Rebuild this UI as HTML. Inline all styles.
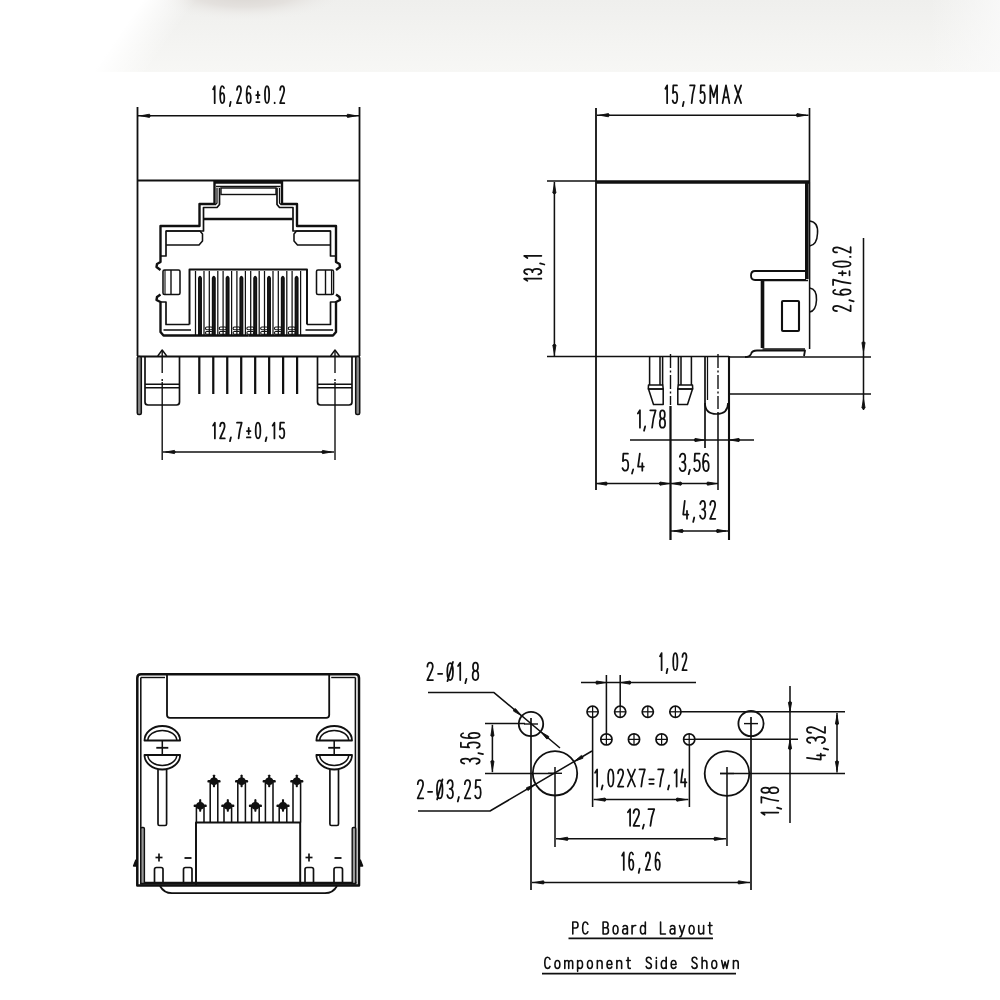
<!DOCTYPE html>
<html><head><meta charset="utf-8"><style>
html,body{margin:0;padding:0;background:#fff;}
body{width:1000px;height:1000px;overflow:hidden;position:relative;}
.bg{position:absolute;left:0;top:0;width:1000px;height:1000px;}
svg{position:absolute;left:0;top:0;}
text{font-family:"Liberation Sans",sans-serif;fill:#101010;}
</style></head><body>
<svg class="bg" width="1000" height="1000" viewBox="0 0 1000 1000">
<defs>
<linearGradient id="gv" x1="0" y1="0" x2="0" y2="72" gradientUnits="userSpaceOnUse">
<stop offset="0" stop-color="#efefed"/><stop offset="1" stop-color="#f7f7f5"/></linearGradient>
<linearGradient id="gl" x1="105" y1="55" x2="141" y2="80" gradientUnits="userSpaceOnUse">
<stop offset="0" stop-color="#ffffff" stop-opacity="1"/><stop offset="1" stop-color="#ffffff" stop-opacity="0"/></linearGradient>
<linearGradient id="gr" x1="930" y1="0" x2="1000" y2="0" gradientUnits="userSpaceOnUse">
<stop offset="0" stop-color="#fafafa" stop-opacity="0"/><stop offset="1" stop-color="#fafafa" stop-opacity="0.8"/></linearGradient>
<radialGradient id="g1" cx="0.5" cy="0.5" r="0.5">
<stop offset="0" stop-color="#d8d4d0"/><stop offset="0.5" stop-color="#e4e1de"/><stop offset="1" stop-color="#f1f1ef" stop-opacity="0"/></radialGradient>
</defs>
<rect x="0" y="0" width="1000" height="72" fill="url(#gv)"/>
<ellipse cx="245" cy="-7" rx="105" ry="28" fill="url(#g1)"/>
<rect x="0" y="0" width="1000" height="72" fill="url(#gr)"/>
<rect x="0" y="0" width="1000" height="72" fill="url(#gl)"/>
</svg>
<svg width="1000" height="1000" viewBox="0 0 1000 1000" style="filter:grayscale(1)">
<defs><filter id="soft" x="0" y="0" width="1000" height="1000" filterUnits="userSpaceOnUse"><feGaussianBlur stdDeviation="0.8"/></filter></defs>
<g>
<line x1="137.5" y1="107" x2="137.5" y2="356" stroke="#101010" stroke-width="1.82" />
<line x1="359.5" y1="107" x2="359.5" y2="356" stroke="#101010" stroke-width="1.82" />
<line x1="138" y1="115.8" x2="359" y2="115.8" stroke="#101010" stroke-width="1.54" />
<polygon points="140.60,115.80 149.50,114.20 150.30,115.80 149.50,117.40" fill="#101010" stroke="#101010" stroke-width="0.9" stroke-linejoin="round"/>
<polygon points="356.40,115.80 347.50,117.40 346.70,115.80 347.50,114.20" fill="#101010" stroke="#101010" stroke-width="0.9" stroke-linejoin="round"/>
<line x1="137.5" y1="180.5" x2="359.5" y2="180.5" stroke="#101010" stroke-width="1.82" />
<polyline points="214.5,181 214.5,204 199.5,204 199.5,226 160.5,226 160.5,262 157,264 156.5,267 160.5,270 160.5,270" fill="none" stroke="#101010" stroke-width="2.38" stroke-linejoin="round" />
<polyline points="282.0,181 282.0,204 297.0,204 297.0,226 336.0,226 336.0,262 339.5,264 340.0,267 336.0,270 336.0,270" fill="none" stroke="#101010" stroke-width="2.38" stroke-linejoin="round" />
<polyline points="160.5,294.5 157,297 156.5,300 160.5,302 160.5,332 163.5,335.5 248.25,335.5" fill="none" stroke="#101010" stroke-width="2.38" stroke-linejoin="round" />
<polyline points="336.0,294.5 339.5,297 340.0,300 336.0,302 336.0,332 333.0,335.5 248.25,335.5" fill="none" stroke="#101010" stroke-width="2.38" stroke-linejoin="round" />
<line x1="214.5" y1="182.3" x2="282" y2="182.3" stroke="#101010" stroke-width="3.08" />
<line x1="216" y1="186.5" x2="280.5" y2="186.5" stroke="#101010" stroke-width="1.4" />
<rect x="221" y="188" width="55" height="6.5" rx="0" fill="none" stroke="#101010" stroke-width="1.4"/>
<polyline points="219.5,188 219.5,204.5 217,207.5 203.5,207.5 203.5,231 166,231 166,256 160.5,256" fill="none" stroke="#101010" stroke-width="1.68" stroke-linejoin="round" />
<polyline points="277.0,188 277.0,204.5 279.5,207.5 293.0,207.5 293.0,231 330.5,231 330.5,256 336.0,256" fill="none" stroke="#101010" stroke-width="1.68" stroke-linejoin="round" />
<polyline points="217,188 217,203 215,205" fill="none" stroke="#101010" stroke-width="1.26" stroke-linejoin="round" />
<polyline points="279.5,188 279.5,203 281.5,205" fill="none" stroke="#101010" stroke-width="1.26" stroke-linejoin="round" />
<line x1="204" y1="219" x2="292.5" y2="219" stroke="#101010" stroke-width="2.52" />
<polyline points="166,231 200,231 202.5,234 202.5,241 199,245 166,245" fill="none" stroke="#101010" stroke-width="1.54" stroke-linejoin="round" />
<polyline points="330.5,231 296.5,231 294.0,234 294.0,241 297.5,245 330.5,245" fill="none" stroke="#101010" stroke-width="1.54" stroke-linejoin="round" />
<rect x="163" y="270" width="17" height="24.5" rx="1.5" fill="none" stroke="#101010" stroke-width="1.54"/>
<rect x="316.5" y="270" width="17" height="24.5" rx="1.5" fill="none" stroke="#101010" stroke-width="1.54"/>
<line x1="171" y1="270" x2="171" y2="294.5" stroke="#101010" stroke-width="1.4" />
<line x1="325.5" y1="270" x2="325.5" y2="294.5" stroke="#101010" stroke-width="1.4" />
<line x1="165" y1="270" x2="165" y2="294.5" stroke="#101010" stroke-width="1.12" />
<line x1="331.5" y1="270" x2="331.5" y2="294.5" stroke="#101010" stroke-width="1.12" />
<polyline points="160.5,302 166,302 166,324.5 189.5,324.5" fill="none" stroke="#101010" stroke-width="1.68" stroke-linejoin="round" />
<polyline points="336.0,302 330.5,302 330.5,324.5 307.0,324.5" fill="none" stroke="#101010" stroke-width="1.68" stroke-linejoin="round" />
<line x1="163.5" y1="330" x2="191" y2="330" stroke="#101010" stroke-width="1.54" />
<line x1="333.0" y1="330" x2="305.5" y2="330" stroke="#101010" stroke-width="1.54" />
<polyline points="189.5,324.5 189.5,269.5 307,269.5 307,324.5" fill="none" stroke="#101010" stroke-width="1.96" stroke-linejoin="round" />
<line x1="195.5" y1="271" x2="195.5" y2="335.5" stroke="#101010" stroke-width="1.26" />
<line x1="204.0" y1="271" x2="204.0" y2="335.5" stroke="#101010" stroke-width="1.26" />
<path d="M199.0,335.5 L199.0,278 Q200.0,275.5 201.0,278 L201.0,335.5" fill="none" stroke="#101010" stroke-width="1.96" stroke-linejoin="round" />
<rect x="205.5" y="327" width="7" height="2.8" rx="1.2" fill="none" stroke="#101010" stroke-width="1.12"/>
<rect x="205.5" y="331.5" width="7" height="2.8" rx="1.2" fill="none" stroke="#101010" stroke-width="1.12"/>
<line x1="209.3" y1="271" x2="209.3" y2="335.5" stroke="#101010" stroke-width="1.26" />
<line x1="217.8" y1="271" x2="217.8" y2="335.5" stroke="#101010" stroke-width="1.26" />
<path d="M212.8,335.5 L212.8,278 Q213.8,275.5 214.8,278 L214.8,335.5" fill="none" stroke="#101010" stroke-width="1.96" stroke-linejoin="round" />
<rect x="219.3" y="327" width="7" height="2.8" rx="1.2" fill="none" stroke="#101010" stroke-width="1.12"/>
<rect x="219.3" y="331.5" width="7" height="2.8" rx="1.2" fill="none" stroke="#101010" stroke-width="1.12"/>
<line x1="223.1" y1="271" x2="223.1" y2="335.5" stroke="#101010" stroke-width="1.26" />
<line x1="231.6" y1="271" x2="231.6" y2="335.5" stroke="#101010" stroke-width="1.26" />
<path d="M226.6,335.5 L226.6,278 Q227.6,275.5 228.6,278 L228.6,335.5" fill="none" stroke="#101010" stroke-width="1.96" stroke-linejoin="round" />
<rect x="233.1" y="327" width="7" height="2.8" rx="1.2" fill="none" stroke="#101010" stroke-width="1.12"/>
<rect x="233.1" y="331.5" width="7" height="2.8" rx="1.2" fill="none" stroke="#101010" stroke-width="1.12"/>
<line x1="236.9" y1="271" x2="236.9" y2="335.5" stroke="#101010" stroke-width="1.26" />
<line x1="245.4" y1="271" x2="245.4" y2="335.5" stroke="#101010" stroke-width="1.26" />
<path d="M240.4,335.5 L240.4,278 Q241.4,275.5 242.4,278 L242.4,335.5" fill="none" stroke="#101010" stroke-width="1.96" stroke-linejoin="round" />
<rect x="246.9" y="327" width="7" height="2.8" rx="1.2" fill="none" stroke="#101010" stroke-width="1.12"/>
<rect x="246.9" y="331.5" width="7" height="2.8" rx="1.2" fill="none" stroke="#101010" stroke-width="1.12"/>
<line x1="250.7" y1="271" x2="250.7" y2="335.5" stroke="#101010" stroke-width="1.26" />
<line x1="259.2" y1="271" x2="259.2" y2="335.5" stroke="#101010" stroke-width="1.26" />
<path d="M254.2,335.5 L254.2,278 Q255.2,275.5 256.2,278 L256.2,335.5" fill="none" stroke="#101010" stroke-width="1.96" stroke-linejoin="round" />
<rect x="260.7" y="327" width="7" height="2.8" rx="1.2" fill="none" stroke="#101010" stroke-width="1.12"/>
<rect x="260.7" y="331.5" width="7" height="2.8" rx="1.2" fill="none" stroke="#101010" stroke-width="1.12"/>
<line x1="264.5" y1="271" x2="264.5" y2="335.5" stroke="#101010" stroke-width="1.26" />
<line x1="273.0" y1="271" x2="273.0" y2="335.5" stroke="#101010" stroke-width="1.26" />
<path d="M268.0,335.5 L268.0,278 Q269.0,275.5 270.0,278 L270.0,335.5" fill="none" stroke="#101010" stroke-width="1.96" stroke-linejoin="round" />
<rect x="274.5" y="327" width="7" height="2.8" rx="1.2" fill="none" stroke="#101010" stroke-width="1.12"/>
<rect x="274.5" y="331.5" width="7" height="2.8" rx="1.2" fill="none" stroke="#101010" stroke-width="1.12"/>
<line x1="278.3" y1="271" x2="278.3" y2="335.5" stroke="#101010" stroke-width="1.26" />
<line x1="286.8" y1="271" x2="286.8" y2="335.5" stroke="#101010" stroke-width="1.26" />
<path d="M281.8,335.5 L281.8,278 Q282.8,275.5 283.8,278 L283.8,335.5" fill="none" stroke="#101010" stroke-width="1.96" stroke-linejoin="round" />
<rect x="288.3" y="327" width="7" height="2.8" rx="1.2" fill="none" stroke="#101010" stroke-width="1.12"/>
<rect x="288.3" y="331.5" width="7" height="2.8" rx="1.2" fill="none" stroke="#101010" stroke-width="1.12"/>
<line x1="292.1" y1="271" x2="292.1" y2="335.5" stroke="#101010" stroke-width="1.26" />
<line x1="300.6" y1="271" x2="300.6" y2="335.5" stroke="#101010" stroke-width="1.26" />
<path d="M295.6,335.5 L295.6,278 Q296.6,275.5 297.6,278 L297.6,335.5" fill="none" stroke="#101010" stroke-width="1.96" stroke-linejoin="round" />
<line x1="137.5" y1="356.5" x2="359.5" y2="356.5" stroke="#101010" stroke-width="1.82" />
<rect x="137.3" y="356.5" width="4" height="58" rx="1.5" fill="#8a8a8a" stroke="#101010" stroke-width="1.54"/>
<rect x="355.7" y="356.5" width="4" height="58" rx="1.5" fill="#8a8a8a" stroke="#101010" stroke-width="1.54"/>
<path d="M145,357 L145,402 Q145,405 148,405 L176.5,405 Q179.5,405 179.5,402 L179.5,357" fill="none" stroke="#101010" stroke-width="1.68" stroke-linejoin="round" />
<line x1="145" y1="384.3" x2="179.5" y2="384.3" stroke="#101010" stroke-width="1.54" />
<line x1="145" y1="387.7" x2="179.5" y2="387.7" stroke="#101010" stroke-width="1.54" />
<path d="M317.5,357 L317.5,402 Q317.5,405 320.5,405 L349.0,405 Q352.0,405 352.0,402 L352.0,357" fill="none" stroke="#101010" stroke-width="1.68" stroke-linejoin="round" />
<line x1="317.5" y1="384.3" x2="352.0" y2="384.3" stroke="#101010" stroke-width="1.54" />
<line x1="317.5" y1="387.7" x2="352.0" y2="387.7" stroke="#101010" stroke-width="1.54" />
<line x1="162.2" y1="350" x2="162.2" y2="373" stroke="#101010" stroke-width="1.4" />
<line x1="162.2" y1="379" x2="162.2" y2="381" stroke="#101010" stroke-width="1.4" />
<line x1="162.2" y1="382" x2="162.2" y2="460" stroke="#101010" stroke-width="1.4" />
<polyline points="157.7,356 162.2,350 166.7,356" fill="none" stroke="#101010" stroke-width="1.4" stroke-linejoin="round" />
<line x1="335" y1="350" x2="335" y2="373" stroke="#101010" stroke-width="1.4" />
<line x1="335" y1="379" x2="335" y2="381" stroke="#101010" stroke-width="1.4" />
<line x1="335" y1="382" x2="335" y2="460" stroke="#101010" stroke-width="1.4" />
<polyline points="330.5,356 335,350 339.5,356" fill="none" stroke="#101010" stroke-width="1.4" stroke-linejoin="round" />
<line x1="199.3" y1="357" x2="199.3" y2="394" stroke="#101010" stroke-width="2.24" />
<line x1="213.27" y1="357" x2="213.27" y2="394" stroke="#101010" stroke-width="2.24" />
<line x1="227.24" y1="357" x2="227.24" y2="394" stroke="#101010" stroke-width="2.24" />
<line x1="241.21" y1="357" x2="241.21" y2="394" stroke="#101010" stroke-width="2.24" />
<line x1="255.18" y1="357" x2="255.18" y2="394" stroke="#101010" stroke-width="2.24" />
<line x1="269.15000000000003" y1="357" x2="269.15000000000003" y2="394" stroke="#101010" stroke-width="2.24" />
<line x1="283.12" y1="357" x2="283.12" y2="394" stroke="#101010" stroke-width="2.24" />
<line x1="297.09000000000003" y1="357" x2="297.09000000000003" y2="394" stroke="#101010" stroke-width="2.24" />
<line x1="163" y1="452" x2="334" y2="452" stroke="#101010" stroke-width="1.54" />
<polygon points="165.60,452.00 174.50,450.40 175.30,452.00 174.50,453.60" fill="#101010" stroke="#101010" stroke-width="0.9" stroke-linejoin="round"/>
<polygon points="331.40,452.00 322.50,453.60 321.70,452.00 322.50,450.40" fill="#101010" stroke="#101010" stroke-width="0.9" stroke-linejoin="round"/>
<line x1="596" y1="108" x2="596" y2="490" stroke="#101010" stroke-width="1.82" />
<line x1="809.5" y1="108" x2="809.5" y2="182" stroke="#101010" stroke-width="1.68" />
<line x1="597" y1="115.2" x2="808.5" y2="115.2" stroke="#101010" stroke-width="1.54" />
<polygon points="599.60,115.20 608.50,113.60 609.30,115.20 608.50,116.80" fill="#101010" stroke="#101010" stroke-width="0.9" stroke-linejoin="round"/>
<polygon points="805.90,115.20 797.00,116.80 796.20,115.20 797.00,113.60" fill="#101010" stroke="#101010" stroke-width="0.9" stroke-linejoin="round"/>
<line x1="547" y1="181" x2="596" y2="181" stroke="#101010" stroke-width="1.4" />
<line x1="596" y1="182" x2="809" y2="182" stroke="#101010" stroke-width="3.64" />
<line x1="806.8" y1="182" x2="806.8" y2="279" stroke="#101010" stroke-width="3.64" />
<line x1="809.6" y1="182" x2="809.6" y2="349" stroke="#101010" stroke-width="1.54" />
<path d="M809.6,221 Q818.5,222 817.5,233.5 Q817,245 809.6,246" fill="none" stroke="#101010" stroke-width="1.54" stroke-linejoin="round" />
<path d="M809.6,288 Q817,289 816.5,300 Q816,311 809.6,312" fill="none" stroke="#101010" stroke-width="1.54" stroke-linejoin="round" />
<path d="M806,271 L755,271 Q751,271 751,275.5 Q751,280 755,280 L806,280" fill="none" stroke="#101010" stroke-width="1.82" stroke-linejoin="round" />
<line x1="762.5" y1="280" x2="762.5" y2="348" stroke="#101010" stroke-width="3.64" />
<line x1="762.5" y1="280.5" x2="808" y2="280.5" stroke="#101010" stroke-width="1.68" />
<rect x="782" y="301" width="17" height="30" rx="1" fill="none" stroke="#101010" stroke-width="2.1"/>
<path d="M745,357 Q750,357 751,354 Q752,350.5 757,350.5 L805,350.5 L804,356" fill="none" stroke="#101010" stroke-width="1.82" stroke-linejoin="round" />
<line x1="762.5" y1="349" x2="805" y2="349" stroke="#101010" stroke-width="1.4" />
<line x1="554.4" y1="182" x2="554.4" y2="356" stroke="#101010" stroke-width="1.54" />
<polygon points="554.40,184.10 556.00,193.00 554.40,193.80 552.80,193.00" fill="#101010" stroke="#101010" stroke-width="0.9" stroke-linejoin="round"/>
<polygon points="554.40,353.90 552.80,345.00 554.40,344.20 556.00,345.00" fill="#101010" stroke="#101010" stroke-width="0.9" stroke-linejoin="round"/>
<line x1="547" y1="356.5" x2="729" y2="356.5" stroke="#101010" stroke-width="1.68" />
<line x1="729" y1="357" x2="871" y2="357" stroke="#101010" stroke-width="1.68" />
<line x1="729" y1="394" x2="871" y2="394" stroke="#101010" stroke-width="1.68" />
<line x1="729" y1="356" x2="729" y2="540" stroke="#101010" stroke-width="2.1" />
<line x1="863.5" y1="238" x2="863.5" y2="410" stroke="#101010" stroke-width="1.54" />
<polygon points="863.50,351.40 861.90,342.50 863.50,341.70 865.10,342.50" fill="#101010" stroke="#101010" stroke-width="0.9" stroke-linejoin="round"/>
<polygon points="863.50,399.10 865.10,408.00 863.50,408.80 861.90,408.00" fill="#101010" stroke="#101010" stroke-width="0.9" stroke-linejoin="round"/>
<line x1="649.6" y1="357" x2="649.6" y2="385" stroke="#101010" stroke-width="1.54" />
<line x1="660" y1="357" x2="660" y2="385" stroke="#101010" stroke-width="1.54" />
<line x1="662.6" y1="357" x2="662.6" y2="385" stroke="#101010" stroke-width="1.54" />
<polygon points="648.5,385 662.8,385 663.2,389 648.3,389" fill="none" stroke="#101010" stroke-width="1.54" stroke-linejoin="round" />
<polygon points="648.5,389 653.5,404.5 663.2,404.5 663.2,389" fill="none" stroke="#101010" stroke-width="1.54" stroke-linejoin="round" />
<line x1="691.4" y1="357" x2="691.4" y2="385" stroke="#101010" stroke-width="1.54" />
<line x1="681.0" y1="357" x2="681.0" y2="385" stroke="#101010" stroke-width="1.54" />
<line x1="678.4" y1="357" x2="678.4" y2="385" stroke="#101010" stroke-width="1.54" />
<polygon points="692.5,385 678.2,385 677.8,389 692.7,389" fill="none" stroke="#101010" stroke-width="1.54" stroke-linejoin="round" />
<polygon points="692.5,389 687.5,404.5 677.8,404.5 677.8,389" fill="none" stroke="#101010" stroke-width="1.54" stroke-linejoin="round" />
<line x1="670.5" y1="354" x2="670.5" y2="368" stroke="#101010" stroke-width="1.4" />
<line x1="670.5" y1="370.5" x2="670.5" y2="372.5" stroke="#101010" stroke-width="1.4" />
<line x1="670.5" y1="375" x2="670.5" y2="389" stroke="#101010" stroke-width="1.4" />
<line x1="670.5" y1="391.5" x2="670.5" y2="393.5" stroke="#101010" stroke-width="1.4" />
<line x1="670.5" y1="396" x2="670.5" y2="405" stroke="#101010" stroke-width="1.4" />
<line x1="670.5" y1="406" x2="670.5" y2="540" stroke="#101010" stroke-width="2.24" />
<path d="M705,357 L705,403 Q705,414 716.5,414 Q728,414 728,403" fill="none" stroke="#101010" stroke-width="1.68" stroke-linejoin="round" />
<line x1="707.5" y1="357" x2="707.5" y2="400" stroke="#101010" stroke-width="1.26" />
<line x1="705" y1="403" x2="705" y2="448" stroke="#101010" stroke-width="1.68" />
<line x1="718" y1="354" x2="718" y2="368" stroke="#101010" stroke-width="1.4" />
<line x1="718" y1="370.5" x2="718" y2="372.5" stroke="#101010" stroke-width="1.4" />
<line x1="718" y1="375" x2="718" y2="389" stroke="#101010" stroke-width="1.4" />
<line x1="718" y1="391.5" x2="718" y2="393.5" stroke="#101010" stroke-width="1.4" />
<line x1="718" y1="396" x2="718" y2="409" stroke="#101010" stroke-width="1.4" />
<line x1="718" y1="412" x2="718" y2="490" stroke="#101010" stroke-width="1.54" />
<line x1="630" y1="440" x2="754" y2="440" stroke="#101010" stroke-width="1.54" />
<polygon points="703.90,440.00 695.00,441.60 694.20,440.00 695.00,438.40" fill="#101010" stroke="#101010" stroke-width="0.9" stroke-linejoin="round"/>
<polygon points="730.10,440.00 739.00,438.40 739.80,440.00 739.00,441.60" fill="#101010" stroke="#101010" stroke-width="0.9" stroke-linejoin="round"/>
<line x1="596" y1="483.6" x2="718" y2="483.6" stroke="#101010" stroke-width="1.54" />
<polygon points="597.60,483.60 606.50,482.00 607.30,483.60 606.50,485.20" fill="#101010" stroke="#101010" stroke-width="0.9" stroke-linejoin="round"/>
<polygon points="668.90,483.60 660.00,485.20 659.20,483.60 660.00,482.00" fill="#101010" stroke="#101010" stroke-width="0.9" stroke-linejoin="round"/>
<polygon points="672.10,483.60 681.00,482.00 681.80,483.60 681.00,485.20" fill="#101010" stroke="#101010" stroke-width="0.9" stroke-linejoin="round"/>
<polygon points="716.40,483.60 707.50,485.20 706.70,483.60 707.50,482.00" fill="#101010" stroke="#101010" stroke-width="0.9" stroke-linejoin="round"/>
<line x1="671" y1="531" x2="728.5" y2="531" stroke="#101010" stroke-width="1.54" />
<polygon points="673.60,531.00 682.50,529.40 683.30,531.00 682.50,532.60" fill="#101010" stroke="#101010" stroke-width="0.9" stroke-linejoin="round"/>
<polygon points="725.90,531.00 717.00,532.60 716.20,531.00 717.00,529.40" fill="#101010" stroke="#101010" stroke-width="0.9" stroke-linejoin="round"/>
<path d="M137.3,885.5 L137.3,678 Q137.3,674.3 141,674.3 L355.5,674.3 Q359,674.3 359,678 L359,885.5 Z" fill="none" stroke="#101010" stroke-width="2.52" stroke-linejoin="round" />
<line x1="140.8" y1="677.5" x2="140.8" y2="883" stroke="#101010" stroke-width="1.54" />
<line x1="355.4" y1="677.5" x2="355.4" y2="883" stroke="#101010" stroke-width="1.54" />
<line x1="140.8" y1="677.5" x2="165" y2="677.5" stroke="#101010" stroke-width="1.4" />
<line x1="355.4" y1="677.5" x2="331.2" y2="677.5" stroke="#101010" stroke-width="1.4" />
<path d="M167,675 L167,715 Q167,717.8 170,717.8 L326.2,717.8 Q329.2,717.8 329.2,715 L329.2,675" fill="none" stroke="#101010" stroke-width="1.82" stroke-linejoin="round" />
<path d="M144.5,740.5 A17.8 14.5 0 0 1 180.10000000000002,740.5 Z" fill="none" stroke="#101010" stroke-width="1.82" stroke-linejoin="round" />
<path d="M147.8,740.5 A14.5 10 0 0 1 176.8,740.5" fill="none" stroke="#101010" stroke-width="1.54" stroke-linejoin="round" />
<line x1="162.3" y1="741" x2="162.3" y2="754" stroke="#101010" stroke-width="1.54" />
<line x1="156.3" y1="747.8" x2="168.3" y2="747.8" stroke="#101010" stroke-width="1.82" />
<path d="M144.5,755 A17.8 14.5 0 0 0 180.10000000000002,755 Z" fill="none" stroke="#101010" stroke-width="1.82" stroke-linejoin="round" />
<path d="M147.8,755 A14.5 10.5 0 0 0 176.8,755" fill="none" stroke="#101010" stroke-width="1.54" stroke-linejoin="round" />
<path d="M158.0,769.5 L158.0,824 Q158.0,825.5 159.5,825.5 L165.10000000000002,825.5 Q166.60000000000002,825.5 166.60000000000002,824 L166.60000000000002,769.5" fill="none" stroke="#101010" stroke-width="1.68" stroke-linejoin="round" />
<path d="M316.4,740.5 A17.8 14.5 0 0 1 352.0,740.5 Z" fill="none" stroke="#101010" stroke-width="1.82" stroke-linejoin="round" />
<path d="M319.7,740.5 A14.5 10 0 0 1 348.7,740.5" fill="none" stroke="#101010" stroke-width="1.54" stroke-linejoin="round" />
<line x1="334.2" y1="741" x2="334.2" y2="754" stroke="#101010" stroke-width="1.54" />
<line x1="328.2" y1="747.8" x2="340.2" y2="747.8" stroke="#101010" stroke-width="1.82" />
<path d="M316.4,755 A17.8 14.5 0 0 0 352.0,755 Z" fill="none" stroke="#101010" stroke-width="1.82" stroke-linejoin="round" />
<path d="M319.7,755 A14.5 10.5 0 0 0 348.7,755" fill="none" stroke="#101010" stroke-width="1.54" stroke-linejoin="round" />
<path d="M329.9,769.5 L329.9,824 Q329.9,825.5 331.4,825.5 L337.0,825.5 Q338.5,825.5 338.5,824 L338.5,769.5" fill="none" stroke="#101010" stroke-width="1.68" stroke-linejoin="round" />
<path d="M210.2,822.5 L210.2,782 M217.8,782 L217.8,822.5" fill="none" stroke="#101010" stroke-width="1.54" stroke-linejoin="round" />
<path d="M196.39999999999998,822.5 L196.39999999999998,806 M204.0,806 L204.0,822.5" fill="none" stroke="#101010" stroke-width="1.54" stroke-linejoin="round" />
<ellipse cx="214.0" cy="781.3" rx="4.1" ry="3.8" fill="#101010"/>
<rect x="207.4" y="780.0" width="13.2" height="2.6" rx="1.2" fill="#101010"/>
<path d="M212.7,781.3 L213.0,775.3 Q214.0,773.9 215.0,775.3 L215.3,781.3 L215.0,786.8 Q214.0,787.9 213.0,786.8 Z" fill="#101010"/>
<ellipse cx="200.2" cy="805.8" rx="4.1" ry="3.8" fill="#101010"/>
<rect x="193.6" y="804.5" width="13.2" height="2.6" rx="1.2" fill="#101010"/>
<path d="M198.89999999999998,805.8 L199.2,799.8 Q200.2,798.4 201.2,799.8 L201.5,805.8 L201.2,811.3 Q200.2,812.4 199.2,811.3 Z" fill="#101010"/>
<path d="M237.79999999999998,822.5 L237.79999999999998,782 M245.4,782 L245.4,822.5" fill="none" stroke="#101010" stroke-width="1.54" stroke-linejoin="round" />
<path d="M223.99999999999997,822.5 L223.99999999999997,806 M231.6,806 L231.6,822.5" fill="none" stroke="#101010" stroke-width="1.54" stroke-linejoin="round" />
<ellipse cx="241.6" cy="781.3" rx="4.1" ry="3.8" fill="#101010"/>
<rect x="235.0" y="780.0" width="13.2" height="2.6" rx="1.2" fill="#101010"/>
<path d="M240.29999999999998,781.3 L240.6,775.3 Q241.6,773.9 242.6,775.3 L242.9,781.3 L242.6,786.8 Q241.6,787.9 240.6,786.8 Z" fill="#101010"/>
<ellipse cx="227.79999999999998" cy="805.8" rx="4.1" ry="3.8" fill="#101010"/>
<rect x="221.2" y="804.5" width="13.2" height="2.6" rx="1.2" fill="#101010"/>
<path d="M226.49999999999997,805.8 L226.79999999999998,799.8 Q227.79999999999998,798.4 228.79999999999998,799.8 L229.1,805.8 L228.79999999999998,811.3 Q227.79999999999998,812.4 226.79999999999998,811.3 Z" fill="#101010"/>
<path d="M265.4,822.5 L265.4,782 M273.0,782 L273.0,822.5" fill="none" stroke="#101010" stroke-width="1.54" stroke-linejoin="round" />
<path d="M251.59999999999997,822.5 L251.59999999999997,806 M259.2,806 L259.2,822.5" fill="none" stroke="#101010" stroke-width="1.54" stroke-linejoin="round" />
<ellipse cx="269.2" cy="781.3" rx="4.1" ry="3.8" fill="#101010"/>
<rect x="262.59999999999997" y="780.0" width="13.2" height="2.6" rx="1.2" fill="#101010"/>
<path d="M267.9,781.3 L268.2,775.3 Q269.2,773.9 270.2,775.3 L270.5,781.3 L270.2,786.8 Q269.2,787.9 268.2,786.8 Z" fill="#101010"/>
<ellipse cx="255.39999999999998" cy="805.8" rx="4.1" ry="3.8" fill="#101010"/>
<rect x="248.79999999999998" y="804.5" width="13.2" height="2.6" rx="1.2" fill="#101010"/>
<path d="M254.09999999999997,805.8 L254.39999999999998,799.8 Q255.39999999999998,798.4 256.4,799.8 L256.7,805.8 L256.4,811.3 Q255.39999999999998,812.4 254.39999999999998,811.3 Z" fill="#101010"/>
<path d="M293.0,822.5 L293.0,782 M300.6,782 L300.6,822.5" fill="none" stroke="#101010" stroke-width="1.54" stroke-linejoin="round" />
<path d="M279.2,822.5 L279.2,806 M286.8,806 L286.8,822.5" fill="none" stroke="#101010" stroke-width="1.54" stroke-linejoin="round" />
<ellipse cx="296.8" cy="781.3" rx="4.1" ry="3.8" fill="#101010"/>
<rect x="290.2" y="780.0" width="13.2" height="2.6" rx="1.2" fill="#101010"/>
<path d="M295.5,781.3 L295.8,775.3 Q296.8,773.9 297.8,775.3 L298.1,781.3 L297.8,786.8 Q296.8,787.9 295.8,786.8 Z" fill="#101010"/>
<ellipse cx="283.0" cy="805.8" rx="4.1" ry="3.8" fill="#101010"/>
<rect x="276.4" y="804.5" width="13.2" height="2.6" rx="1.2" fill="#101010"/>
<path d="M281.7,805.8 L282.0,799.8 Q283.0,798.4 284.0,799.8 L284.3,805.8 L284.0,811.3 Q283.0,812.4 282.0,811.3 Z" fill="#101010"/>
<polyline points="196,885 196,822.4 300.2,822.4 300.2,885" fill="none" stroke="#101010" stroke-width="1.96" stroke-linejoin="round" />
<path d="M154.5,883 L154.5,869.5 Q154.5,867.5 156.5,867.5 L161.0,867.5 Q163.0,867.5 163.0,869.5 L163.0,883" fill="none" stroke="#101010" stroke-width="1.68" stroke-linejoin="round" />
<path d="M183.5,883 L183.5,869.5 Q183.5,867.5 185.5,867.5 L190.0,867.5 Q192.0,867.5 192.0,869.5 L192.0,883" fill="none" stroke="#101010" stroke-width="1.68" stroke-linejoin="round" />
<path d="M305,883 L305,869.5 Q305,867.5 307,867.5 L311.5,867.5 Q313.5,867.5 313.5,869.5 L313.5,883" fill="none" stroke="#101010" stroke-width="1.68" stroke-linejoin="round" />
<path d="M334,883 L334,869.5 Q334,867.5 336,867.5 L340.5,867.5 Q342.5,867.5 342.5,869.5 L342.5,883" fill="none" stroke="#101010" stroke-width="1.68" stroke-linejoin="round" />
<line x1="155.5" y1="857.5" x2="162.5" y2="857.5" stroke="#101010" stroke-width="1.68" />
<line x1="159" y1="853.5" x2="159" y2="861.5" stroke="#101010" stroke-width="1.68" />
<line x1="305.5" y1="857.5" x2="312.5" y2="857.5" stroke="#101010" stroke-width="1.68" />
<line x1="309" y1="853.5" x2="309" y2="861.5" stroke="#101010" stroke-width="1.68" />
<line x1="184.5" y1="858" x2="191.5" y2="858" stroke="#101010" stroke-width="1.82" />
<line x1="334.5" y1="858" x2="341.5" y2="858" stroke="#101010" stroke-width="1.82" />
<line x1="140" y1="883.3" x2="356.5" y2="883.3" stroke="#101010" stroke-width="3.08" />
<path d="M160,886 Q164,893.2 172,893.2 L325,893.2 Q333,893.2 337,886" fill="none" stroke="#101010" stroke-width="1.82" stroke-linejoin="round" />
<rect x="140.8" y="827.5" width="3.6" height="56" rx="1.2" fill="#999" stroke="#101010" stroke-width="1.4"/>
<rect x="352.2" y="827.5" width="3.6" height="56" rx="1.2" fill="#999" stroke="#101010" stroke-width="1.4"/>
<polygon points="135.8,860 133.5,866 137,866" fill="#101010" stroke="#101010" stroke-width="1.26" stroke-linejoin="round" />
<polygon points="360.4,860 362.7,866 359.2,866" fill="#101010" stroke="#101010" stroke-width="1.26" stroke-linejoin="round" />
<circle cx="555" cy="773.3" r="22.2" fill="none" stroke="#101010" stroke-width="1.82"/>
<circle cx="727" cy="773.5" r="22.3" fill="none" stroke="#101010" stroke-width="1.82"/>
<circle cx="531" cy="724" r="12.2" fill="none" stroke="#101010" stroke-width="1.82"/>
<circle cx="751" cy="723.6" r="12.6" fill="none" stroke="#101010" stroke-width="1.82"/>
<line x1="524" y1="724" x2="538" y2="724" stroke="#101010" stroke-width="1.4" />
<line x1="744" y1="723.6" x2="758" y2="723.6" stroke="#101010" stroke-width="1.4" />
<line x1="548" y1="773.3" x2="562" y2="773.3" stroke="#101010" stroke-width="1.4" />
<line x1="720" y1="773.5" x2="734" y2="773.5" stroke="#101010" stroke-width="1.4" />
<line x1="555" y1="767" x2="555" y2="847" stroke="#101010" stroke-width="1.54" />
<line x1="727" y1="767" x2="727" y2="846" stroke="#101010" stroke-width="1.54" />
<line x1="531" y1="718" x2="531" y2="890" stroke="#101010" stroke-width="1.68" />
<line x1="751" y1="717" x2="751" y2="890" stroke="#101010" stroke-width="1.68" />
<circle cx="592.6" cy="711.8" r="5.6" fill="none" stroke="#101010" stroke-width="1.68"/>
<line x1="587.0" y1="711.8" x2="598.2" y2="711.8" stroke="#101010" stroke-width="1.26" />
<line x1="592.6" y1="706.1999999999999" x2="592.6" y2="717.4" stroke="#101010" stroke-width="1.26" />
<circle cx="606.4" cy="739.4" r="5.6" fill="none" stroke="#101010" stroke-width="1.68"/>
<line x1="600.8" y1="739.4" x2="612.0" y2="739.4" stroke="#101010" stroke-width="1.26" />
<line x1="606.4" y1="733.8" x2="606.4" y2="745.0" stroke="#101010" stroke-width="1.26" />
<circle cx="620.2" cy="711.8" r="5.6" fill="none" stroke="#101010" stroke-width="1.68"/>
<line x1="614.6" y1="711.8" x2="625.8000000000001" y2="711.8" stroke="#101010" stroke-width="1.26" />
<line x1="620.2" y1="706.1999999999999" x2="620.2" y2="717.4" stroke="#101010" stroke-width="1.26" />
<circle cx="634.0" cy="739.4" r="5.6" fill="none" stroke="#101010" stroke-width="1.68"/>
<line x1="628.4" y1="739.4" x2="639.6" y2="739.4" stroke="#101010" stroke-width="1.26" />
<line x1="634.0" y1="733.8" x2="634.0" y2="745.0" stroke="#101010" stroke-width="1.26" />
<circle cx="647.8000000000001" cy="711.8" r="5.6" fill="none" stroke="#101010" stroke-width="1.68"/>
<line x1="642.2" y1="711.8" x2="653.4000000000001" y2="711.8" stroke="#101010" stroke-width="1.26" />
<line x1="647.8000000000001" y1="706.1999999999999" x2="647.8000000000001" y2="717.4" stroke="#101010" stroke-width="1.26" />
<circle cx="661.6" cy="739.4" r="5.6" fill="none" stroke="#101010" stroke-width="1.68"/>
<line x1="656.0" y1="739.4" x2="667.2" y2="739.4" stroke="#101010" stroke-width="1.26" />
<line x1="661.6" y1="733.8" x2="661.6" y2="745.0" stroke="#101010" stroke-width="1.26" />
<circle cx="675.4000000000001" cy="711.8" r="5.6" fill="none" stroke="#101010" stroke-width="1.68"/>
<line x1="669.8000000000001" y1="711.8" x2="681.0000000000001" y2="711.8" stroke="#101010" stroke-width="1.26" />
<line x1="675.4000000000001" y1="706.1999999999999" x2="675.4000000000001" y2="717.4" stroke="#101010" stroke-width="1.26" />
<circle cx="689.2" cy="739.4" r="5.6" fill="none" stroke="#101010" stroke-width="1.68"/>
<line x1="683.6" y1="739.4" x2="694.8000000000001" y2="739.4" stroke="#101010" stroke-width="1.26" />
<line x1="689.2" y1="733.8" x2="689.2" y2="745.0" stroke="#101010" stroke-width="1.26" />
<line x1="592.6" y1="717" x2="592.6" y2="807" stroke="#101010" stroke-width="1.54" />
<line x1="689.4" y1="745" x2="689.4" y2="807" stroke="#101010" stroke-width="1.54" />
<line x1="606.4" y1="675" x2="606.4" y2="733.8" stroke="#101010" stroke-width="1.54" />
<line x1="620.2" y1="675" x2="620.2" y2="706" stroke="#101010" stroke-width="1.54" />
<line x1="681" y1="711.8" x2="845" y2="711.8" stroke="#101010" stroke-width="1.54" />
<line x1="695" y1="739.3" x2="798" y2="739.3" stroke="#101010" stroke-width="1.54" />
<line x1="720" y1="773.5" x2="845" y2="773.5" stroke="#101010" stroke-width="1.54" />
<line x1="581" y1="682.6" x2="696" y2="682.6" stroke="#101010" stroke-width="1.54" />
<polygon points="605.40,682.60 596.50,684.20 595.70,682.60 596.50,681.00" fill="#101010" stroke="#101010" stroke-width="0.9" stroke-linejoin="round"/>
<polygon points="621.20,682.60 630.10,681.00 630.90,682.60 630.10,684.20" fill="#101010" stroke="#101010" stroke-width="0.9" stroke-linejoin="round"/>
<line x1="485" y1="723.6" x2="525" y2="723.6" stroke="#101010" stroke-width="1.54" />
<line x1="485" y1="773.4" x2="555" y2="773.4" stroke="#101010" stroke-width="1.54" />
<line x1="492.4" y1="724.8" x2="492.4" y2="772.2" stroke="#101010" stroke-width="1.54" />
<polygon points="492.40,726.90 494.00,735.80 492.40,736.60 490.80,735.80" fill="#101010" stroke="#101010" stroke-width="0.9" stroke-linejoin="round"/>
<polygon points="492.40,770.10 490.80,761.20 492.40,760.40 494.00,761.20" fill="#101010" stroke="#101010" stroke-width="0.9" stroke-linejoin="round"/>
<polyline points="428,692.6 494,692.6 560,748" fill="none" stroke="#101010" stroke-width="1.54" stroke-linejoin="round" />
<polygon points="521.34,715.61 513.50,711.12 513.91,709.38 515.55,708.67" fill="#101010" stroke="#101010" stroke-width="0.9" stroke-linejoin="round"/>
<polygon points="540.96,731.99 548.80,736.48 548.39,738.22 546.75,738.93" fill="#101010" stroke="#101010" stroke-width="0.9" stroke-linejoin="round"/>
<polyline points="418,811 490,811 592,751" fill="none" stroke="#101010" stroke-width="1.54" stroke-linejoin="round" />
<polygon points="535.08,784.50 528.22,790.40 526.72,789.42 526.60,787.64" fill="#101010" stroke="#101010" stroke-width="0.9" stroke-linejoin="round"/>
<polygon points="574.42,761.40 581.28,755.50 582.78,756.48 582.90,758.26" fill="#101010" stroke="#101010" stroke-width="0.9" stroke-linejoin="round"/>
<line x1="593.6" y1="799.6" x2="688.4" y2="799.6" stroke="#101010" stroke-width="1.54" />
<polygon points="596.20,799.60 605.10,798.00 605.90,799.60 605.10,801.20" fill="#101010" stroke="#101010" stroke-width="0.9" stroke-linejoin="round"/>
<polygon points="685.80,799.60 676.90,801.20 676.10,799.60 676.90,798.00" fill="#101010" stroke="#101010" stroke-width="0.9" stroke-linejoin="round"/>
<line x1="556" y1="838.8" x2="726" y2="838.8" stroke="#101010" stroke-width="1.54" />
<polygon points="558.60,838.80 567.50,837.20 568.30,838.80 567.50,840.40" fill="#101010" stroke="#101010" stroke-width="0.9" stroke-linejoin="round"/>
<polygon points="723.40,838.80 714.50,840.40 713.70,838.80 714.50,837.20" fill="#101010" stroke="#101010" stroke-width="0.9" stroke-linejoin="round"/>
<line x1="532" y1="882.4" x2="750" y2="882.4" stroke="#101010" stroke-width="1.54" />
<polygon points="534.60,882.40 543.50,880.80 544.30,882.40 543.50,884.00" fill="#101010" stroke="#101010" stroke-width="0.9" stroke-linejoin="round"/>
<polygon points="747.40,882.40 738.50,884.00 737.70,882.40 738.50,880.80" fill="#101010" stroke="#101010" stroke-width="0.9" stroke-linejoin="round"/>
<line x1="790" y1="686" x2="790" y2="823" stroke="#101010" stroke-width="1.54" />
<polygon points="790.00,711.20 788.40,702.30 790.00,701.50 791.60,702.30" fill="#101010" stroke="#101010" stroke-width="0.9" stroke-linejoin="round"/>
<polygon points="790.00,739.90 791.60,748.80 790.00,749.60 788.40,748.80" fill="#101010" stroke="#101010" stroke-width="0.9" stroke-linejoin="round"/>
<line x1="837" y1="713" x2="837" y2="772.5" stroke="#101010" stroke-width="1.54" />
<polygon points="837.00,715.10 838.60,724.00 837.00,724.80 835.40,724.00" fill="#101010" stroke="#101010" stroke-width="0.9" stroke-linejoin="round"/>
<polygon points="837.00,770.40 835.40,761.50 837.00,760.70 838.60,761.50" fill="#101010" stroke="#101010" stroke-width="0.9" stroke-linejoin="round"/>
<line x1="568.5" y1="938.3" x2="713" y2="938.3" stroke="#101010" stroke-width="1.82" />
<line x1="542" y1="973.6" x2="736" y2="973.6" stroke="#101010" stroke-width="1.82" />
<g fill="none" stroke="#101010" stroke-width="1.75" stroke-linecap="round" stroke-linejoin="round"><path transform="matrix(0.6214 0 0 0.8974 213.07 86.08)" d="M0,3.6 L2.6,0 L2.6,19" vector-effect="non-scaling-stroke"/><path transform="matrix(0.6214 0 0 0.8974 219.97 86.08)" d="M6.5,2.2 C5.9,0.8 4.9,0 3.7,0 C1.5,0 0.3,3.6 0.3,10 C0.3,16 1.5,19 3.7,19 C5.8,19 7,16.6 7,13.3 C7,10 5.8,7.8 3.7,7.8 C2,7.8 0.8,9.2 0.3,11.6" vector-effect="non-scaling-stroke"/><path transform="matrix(0.6214 0 0 0.8974 229.60 86.08)" d="M1.7,17.6 L0.3,22.3" vector-effect="non-scaling-stroke"/><path transform="matrix(0.6214 0 0 0.8974 236.80 86.08)" d="M0.3,4.3 C0.5,1.5 1.8,0 3.6,0 C5.6,0 6.8,1.6 6.8,4.3 C6.8,7.6 4.4,10.6 0.2,19 L7,19" vector-effect="non-scaling-stroke"/><path transform="matrix(0.6214 0 0 0.8974 246.43 86.08)" d="M6.5,2.2 C5.9,0.8 4.9,0 3.7,0 C1.5,0 0.3,3.6 0.3,10 C0.3,16 1.5,19 3.7,19 C5.8,19 7,16.6 7,13.3 C7,10 5.8,7.8 3.7,7.8 C2,7.8 0.8,9.2 0.3,11.6" vector-effect="non-scaling-stroke"/><path transform="matrix(0.6214 0 0 0.8974 256.25 86.08)" d="M2.6,6.3 L2.6,13.8 M0,10.1 L5.2,10.1 M0,17.8 L5.2,17.8" vector-effect="non-scaling-stroke"/><path transform="matrix(0.6214 0 0 0.8974 264.82 86.08)" d="M3.6,0 C1.2,0 0.2,4 0.2,9.5 C0.2,15 1.2,19 3.6,19 C6,19 7,15 7,9.5 C7,4 6,0 3.6,0 Z" vector-effect="non-scaling-stroke"/><path transform="matrix(0.6214 0 0 0.8974 274.26 86.08)" d="M0.6,18.3 L0.6,19" vector-effect="non-scaling-stroke"/><path transform="matrix(0.6214 0 0 0.8974 279.97 86.08)" d="M0.3,4.3 C0.5,1.5 1.8,0 3.6,0 C5.6,0 6.8,1.6 6.8,4.3 C6.8,7.6 4.4,10.6 0.2,19 L7,19" vector-effect="non-scaling-stroke"/></g>
<g fill="none" stroke="#101010" stroke-width="1.75" stroke-linecap="round" stroke-linejoin="round"><path transform="matrix(0.6786 0 0 0.9342 665.38 85.38)" d="M0,3.6 L2.6,0 L2.6,19" vector-effect="non-scaling-stroke"/><path transform="matrix(0.6786 0 0 0.9342 672.50 85.38)" d="M6.6,0 L1.2,0 L0.7,8.3 C1.6,7.3 2.6,6.9 3.7,6.9 C5.8,6.9 7,9.1 7,12.9 C7,16.8 5.6,19 3.5,19 C1.9,19 0.8,18 0.2,16.2" vector-effect="non-scaling-stroke"/><path transform="matrix(0.6786 0 0 0.9342 682.55 85.38)" d="M1.7,17.6 L0.3,22.3" vector-effect="non-scaling-stroke"/><path transform="matrix(0.6786 0 0 0.9342 689.95 85.38)" d="M0.2,0 L7,0 C5,5 3.3,11 2.5,19" vector-effect="non-scaling-stroke"/><path transform="matrix(0.6786 0 0 0.9342 700.06 85.38)" d="M6.6,0 L1.2,0 L0.7,8.3 C1.6,7.3 2.6,6.9 3.7,6.9 C5.8,6.9 7,9.1 7,12.9 C7,16.8 5.6,19 3.5,19 C1.9,19 0.8,18 0.2,16.2" vector-effect="non-scaling-stroke"/><path transform="matrix(0.6786 0 0 0.9342 710.31 85.38)" d="M0,19 L0,0 L5,12.5 L10,0 L10,19" vector-effect="non-scaling-stroke"/><path transform="matrix(0.6786 0 0 0.9342 722.60 85.38)" d="M0,19 L5,0 L10,19 M1.9,12.8 L8.1,12.8" vector-effect="non-scaling-stroke"/><path transform="matrix(0.6786 0 0 0.9342 734.88 85.38)" d="M0,0 L9.2,19 M9.2,0 L0,19" vector-effect="non-scaling-stroke"/></g>
<g fill="none" stroke="#101010" stroke-width="1.75" stroke-linecap="round" stroke-linejoin="round"><path transform="matrix(0.6929 0 0 0.8289 213.07 422.68)" d="M0,3.6 L2.6,0 L2.6,19" vector-effect="non-scaling-stroke"/><path transform="matrix(0.6929 0 0 0.8289 219.92 422.68)" d="M0.3,4.3 C0.5,1.5 1.8,0 3.6,0 C5.6,0 6.8,1.6 6.8,4.3 C6.8,7.6 4.4,10.6 0.2,19 L7,19" vector-effect="non-scaling-stroke"/><path transform="matrix(0.6929 0 0 0.8289 229.74 422.68)" d="M1.7,17.6 L0.3,22.3" vector-effect="non-scaling-stroke"/><path transform="matrix(0.6929 0 0 0.8289 236.87 422.68)" d="M0.2,0 L7,0 C5,5 3.3,11 2.5,19" vector-effect="non-scaling-stroke"/><path transform="matrix(0.6929 0 0 0.8289 246.90 422.68)" d="M2.6,6.3 L2.6,13.8 M0,10.1 L5.2,10.1 M0,17.8 L5.2,17.8" vector-effect="non-scaling-stroke"/><path transform="matrix(0.6929 0 0 0.8289 255.54 422.68)" d="M3.6,0 C1.2,0 0.2,4 0.2,9.5 C0.2,15 1.2,19 3.6,19 C6,19 7,15 7,9.5 C7,4 6,0 3.6,0 Z" vector-effect="non-scaling-stroke"/><path transform="matrix(0.6929 0 0 0.8289 265.37 422.68)" d="M1.7,17.6 L0.3,22.3" vector-effect="non-scaling-stroke"/><path transform="matrix(0.6929 0 0 0.8289 272.63 422.68)" d="M0,3.6 L2.6,0 L2.6,19" vector-effect="non-scaling-stroke"/><path transform="matrix(0.6929 0 0 0.8289 279.47 422.68)" d="M6.6,0 L1.2,0 L0.7,8.3 C1.6,7.3 2.6,6.9 3.7,6.9 C5.8,6.9 7,9.1 7,12.9 C7,16.8 5.6,19 3.5,19 C1.9,19 0.8,18 0.2,16.2" vector-effect="non-scaling-stroke"/></g>
<g fill="none" stroke="#101010" stroke-width="1.75" stroke-linecap="round" stroke-linejoin="round"><path transform="matrix(0.7929 0 0 0.9184 637.88 410.27)" d="M0,3.6 L2.6,0 L2.6,19" vector-effect="non-scaling-stroke"/><path transform="matrix(0.7929 0 0 0.9184 643.79 410.27)" d="M1.7,17.6 L0.3,22.3" vector-effect="non-scaling-stroke"/><path transform="matrix(0.7929 0 0 0.9184 650.10 410.27)" d="M0.2,0 L7,0 C5,5 3.3,11 2.5,19" vector-effect="non-scaling-stroke"/><path transform="matrix(0.7929 0 0 0.9184 659.58 410.27)" d="M3.6,9 C1.7,9 0.6,7.4 0.6,4.5 C0.6,1.7 1.7,0 3.6,0 C5.5,0 6.6,1.7 6.6,4.5 C6.6,7.4 5.5,9 3.6,9 C1.4,9 0.2,10.9 0.2,14 C0.2,17.1 1.4,19 3.6,19 C5.8,19 7,17.1 7,14 C7,10.9 5.8,9 3.6,9 Z" vector-effect="non-scaling-stroke"/></g>
<g fill="none" stroke="#101010" stroke-width="1.75" stroke-linecap="round" stroke-linejoin="round"><path transform="matrix(0.8500 0 0 0.8921 622.31 453.68)" d="M6.6,0 L1.2,0 L0.7,8.3 C1.6,7.3 2.6,6.9 3.7,6.9 C5.8,6.9 7,9.1 7,12.9 C7,16.8 5.6,19 3.5,19 C1.9,19 0.8,18 0.2,16.2" vector-effect="non-scaling-stroke"/><path transform="matrix(0.8500 0 0 0.8921 631.75 453.68)" d="M1.7,17.6 L0.3,22.3" vector-effect="non-scaling-stroke"/><path transform="matrix(0.8500 0 0 0.8921 637.88 453.68)" d="M2.3,0 L0.2,14.5 L7,14.5 M5.2,10.6 L5.2,19" vector-effect="non-scaling-stroke"/></g>
<g fill="none" stroke="#101010" stroke-width="1.75" stroke-linecap="round" stroke-linejoin="round"><path transform="matrix(0.8500 0 0 0.9184 679.59 453.68)" d="M0.3,3.4 C0.9,1.1 2.1,0 3.6,0 C5.6,0 6.7,1.8 6.7,4.6 C6.7,7.4 5.3,9.1 2.9,9.1 C5.6,9.1 7,11 7,14 C7,17.2 5.6,19 3.5,19 C1.8,19 0.7,17.9 0.1,15.7" vector-effect="non-scaling-stroke"/><path transform="matrix(0.8500 0 0 0.9184 688.42 453.68)" d="M1.7,17.6 L0.3,22.3" vector-effect="non-scaling-stroke"/><path transform="matrix(0.8500 0 0 0.9184 693.94 453.68)" d="M6.6,0 L1.2,0 L0.7,8.3 C1.6,7.3 2.6,6.9 3.7,6.9 C5.8,6.9 7,9.1 7,12.9 C7,16.8 5.6,19 3.5,19 C1.9,19 0.8,18 0.2,16.2" vector-effect="non-scaling-stroke"/><path transform="matrix(0.8500 0 0 0.9184 702.77 453.68)" d="M6.5,2.2 C5.9,0.8 4.9,0 3.7,0 C1.5,0 0.3,3.6 0.3,10 C0.3,16 1.5,19 3.7,19 C5.8,19 7,16.6 7,13.3 C7,10 5.8,7.8 3.7,7.8 C2,7.8 0.8,9.2 0.3,11.6" vector-effect="non-scaling-stroke"/></g>
<g fill="none" stroke="#101010" stroke-width="1.75" stroke-linecap="round" stroke-linejoin="round"><path transform="matrix(0.7643 0 0 0.9500 683.02 500.77)" d="M2.3,0 L0.2,14.5 L7,14.5 M5.2,10.6 L5.2,19" vector-effect="non-scaling-stroke"/><path transform="matrix(0.7643 0 0 0.9500 692.95 500.77)" d="M1.7,17.6 L0.3,22.3" vector-effect="non-scaling-stroke"/><path transform="matrix(0.7643 0 0 0.9500 699.97 500.77)" d="M0.3,3.4 C0.9,1.1 2.1,0 3.6,0 C5.6,0 6.7,1.8 6.7,4.6 C6.7,7.4 5.3,9.1 2.9,9.1 C5.6,9.1 7,11 7,14 C7,17.2 5.6,19 3.5,19 C1.8,19 0.7,17.9 0.1,15.7" vector-effect="non-scaling-stroke"/><path transform="matrix(0.7643 0 0 0.9500 709.98 500.77)" d="M0.3,4.3 C0.5,1.5 1.8,0 3.6,0 C5.6,0 6.8,1.6 6.8,4.3 C6.8,7.6 4.4,10.6 0.2,19 L7,19" vector-effect="non-scaling-stroke"/></g>
<g fill="none" stroke="#101010" stroke-width="1.75" stroke-linecap="round" stroke-linejoin="round"><path transform="matrix(0.8357 0 0 0.9184 427.11 662.67)" d="M0.3,4.3 C0.5,1.5 1.8,0 3.6,0 C5.6,0 6.8,1.6 6.8,4.3 C6.8,7.6 4.4,10.6 0.2,19 L7,19" vector-effect="non-scaling-stroke"/><path transform="matrix(0.8357 0 0 0.9184 438.04 662.67)" d="M0,12.2 L5,12.2" vector-effect="non-scaling-stroke"/><path transform="matrix(0.8357 0 0 0.9184 446.79 662.67)" d="M4,0.4 C1.9,0.4 0.6,4.1 0.6,9.7 C0.6,15.3 1.9,19 4,19 C6.1,19 7.4,15.3 7.4,9.7 C7.4,4.1 6.1,0.4 4,0.4 Z M0.8,20.2 L7.4,-0.8" vector-effect="non-scaling-stroke"/><path transform="matrix(0.8357 0 0 0.9184 458.06 662.67)" d="M0,3.6 L2.6,0 L2.6,19" vector-effect="non-scaling-stroke"/><path transform="matrix(0.8357 0 0 0.9184 465.06 662.67)" d="M1.7,17.6 L0.3,22.3" vector-effect="non-scaling-stroke"/><path transform="matrix(0.8357 0 0 0.9184 472.48 662.67)" d="M3.6,9 C1.7,9 0.6,7.4 0.6,4.5 C0.6,1.7 1.7,0 3.6,0 C5.5,0 6.6,1.7 6.6,4.5 C6.6,7.4 5.5,9 3.6,9 C1.4,9 0.2,10.9 0.2,14 C0.2,17.1 1.4,19 3.6,19 C5.8,19 7,17.1 7,14 C7,10.9 5.8,9 3.6,9 Z" vector-effect="non-scaling-stroke"/></g>
<g fill="none" stroke="#101010" stroke-width="1.75" stroke-linecap="round" stroke-linejoin="round"><path transform="matrix(0.8214 0 0 0.9605 417.51 780.08)" d="M0.3,4.3 C0.5,1.5 1.8,0 3.6,0 C5.6,0 6.8,1.6 6.8,4.3 C6.8,7.6 4.4,10.6 0.2,19 L7,19" vector-effect="non-scaling-stroke"/><path transform="matrix(0.8214 0 0 0.9605 428.05 780.08)" d="M0,12.2 L5,12.2" vector-effect="non-scaling-stroke"/><path transform="matrix(0.8214 0 0 0.9605 436.45 780.08)" d="M4,0.4 C1.9,0.4 0.6,4.1 0.6,9.7 C0.6,15.3 1.9,19 4,19 C6.1,19 7.4,15.3 7.4,9.7 C7.4,4.1 6.1,0.4 4,0.4 Z M0.8,20.2 L7.4,-0.8" vector-effect="non-scaling-stroke"/><path transform="matrix(0.8214 0 0 0.9605 447.23 780.08)" d="M0.3,3.4 C0.9,1.1 2.1,0 3.6,0 C5.6,0 6.7,1.8 6.7,4.6 C6.7,7.4 5.3,9.1 2.9,9.1 C5.6,9.1 7,11 7,14 C7,17.2 5.6,19 3.5,19 C1.8,19 0.7,17.9 0.1,15.7" vector-effect="non-scaling-stroke"/><path transform="matrix(0.8214 0 0 0.9605 457.52 780.08)" d="M1.7,17.6 L0.3,22.3" vector-effect="non-scaling-stroke"/><path transform="matrix(0.8214 0 0 0.9605 464.60 780.08)" d="M0.3,4.3 C0.5,1.5 1.8,0 3.6,0 C5.6,0 6.8,1.6 6.8,4.3 C6.8,7.6 4.4,10.6 0.2,19 L7,19" vector-effect="non-scaling-stroke"/><path transform="matrix(0.8214 0 0 0.9605 474.98 780.08)" d="M6.6,0 L1.2,0 L0.7,8.3 C1.6,7.3 2.6,6.9 3.7,6.9 C5.8,6.9 7,9.1 7,12.9 C7,16.8 5.6,19 3.5,19 C1.9,19 0.8,18 0.2,16.2" vector-effect="non-scaling-stroke"/></g>
<g fill="none" stroke="#101010" stroke-width="1.75" stroke-linecap="round" stroke-linejoin="round"><path transform="matrix(0.6214 0 0 0.9026 659.98 653.08)" d="M0,3.6 L2.6,0 L2.6,19" vector-effect="non-scaling-stroke"/><path transform="matrix(0.6214 0 0 0.9026 666.37 653.08)" d="M1.7,17.6 L0.3,22.3" vector-effect="non-scaling-stroke"/><path transform="matrix(0.6214 0 0 0.9026 673.08 653.08)" d="M3.6,0 C1.2,0 0.2,4 0.2,9.5 C0.2,15 1.2,19 3.6,19 C6,19 7,15 7,9.5 C7,4 6,0 3.6,0 Z" vector-effect="non-scaling-stroke"/><path transform="matrix(0.6214 0 0 0.9026 682.27 653.08)" d="M0.3,4.3 C0.5,1.5 1.8,0 3.6,0 C5.6,0 6.8,1.6 6.8,4.3 C6.8,7.6 4.4,10.6 0.2,19 L7,19" vector-effect="non-scaling-stroke"/></g>
<g fill="none" stroke="#101010" stroke-width="1.75" stroke-linecap="round" stroke-linejoin="round"><path transform="matrix(0.7929 0 0 0.8974 595.08 769.48)" d="M0,3.6 L2.6,0 L2.6,19" vector-effect="non-scaling-stroke"/><path transform="matrix(0.7929 0 0 0.8974 601.32 769.48)" d="M1.7,17.6 L0.3,22.3" vector-effect="non-scaling-stroke"/><path transform="matrix(0.7929 0 0 0.8974 607.97 769.48)" d="M3.6,0 C1.2,0 0.2,4 0.2,9.5 C0.2,15 1.2,19 3.6,19 C6,19 7,15 7,9.5 C7,4 6,0 3.6,0 Z" vector-effect="non-scaling-stroke"/><path transform="matrix(0.7929 0 0 0.8974 617.79 769.48)" d="M0.3,4.3 C0.5,1.5 1.8,0 3.6,0 C5.6,0 6.8,1.6 6.8,4.3 C6.8,7.6 4.4,10.6 0.2,19 L7,19" vector-effect="non-scaling-stroke"/><path transform="matrix(0.7929 0 0 0.8974 627.76 769.48)" d="M0,0 L9.2,19 M9.2,0 L0,19" vector-effect="non-scaling-stroke"/><path transform="matrix(0.7929 0 0 0.8974 639.32 769.48)" d="M0.2,0 L7,0 C5,5 3.3,11 2.5,19" vector-effect="non-scaling-stroke"/><path transform="matrix(0.7929 0 0 0.8974 649.30 769.48)" d="M0,11 L5.6,11 M0,16 L5.6,16" vector-effect="non-scaling-stroke"/><path transform="matrix(0.7929 0 0 0.8974 658.01 769.48)" d="M0.2,0 L7,0 C5,5 3.3,11 2.5,19" vector-effect="non-scaling-stroke"/><path transform="matrix(0.7929 0 0 0.8974 667.74 769.48)" d="M1.7,17.6 L0.3,22.3" vector-effect="non-scaling-stroke"/><path transform="matrix(0.7929 0 0 0.8974 674.55 769.48)" d="M0,3.6 L2.6,0 L2.6,19" vector-effect="non-scaling-stroke"/><path transform="matrix(0.7929 0 0 0.8974 680.88 769.48)" d="M2.3,0 L0.2,14.5 L7,14.5 M5.2,10.6 L5.2,19" vector-effect="non-scaling-stroke"/></g>
<g fill="none" stroke="#101010" stroke-width="1.75" stroke-linecap="round" stroke-linejoin="round"><path transform="matrix(0.8500 0 0 0.8763 627.88 809.17)" d="M0,3.6 L2.6,0 L2.6,19" vector-effect="non-scaling-stroke"/><path transform="matrix(0.8500 0 0 0.8763 633.34 809.17)" d="M0.3,4.3 C0.5,1.5 1.8,0 3.6,0 C5.6,0 6.8,1.6 6.8,4.3 C6.8,7.6 4.4,10.6 0.2,19 L7,19" vector-effect="non-scaling-stroke"/><path transform="matrix(0.8500 0 0 0.8763 642.47 809.17)" d="M1.7,17.6 L0.3,22.3" vector-effect="non-scaling-stroke"/><path transform="matrix(0.8500 0 0 0.8763 648.27 809.17)" d="M0.2,0 L7,0 C5,5 3.3,11 2.5,19" vector-effect="non-scaling-stroke"/></g>
<g fill="none" stroke="#101010" stroke-width="1.75" stroke-linecap="round" stroke-linejoin="round"><path transform="matrix(0.6500 0 0 0.9237 622.08 852.38)" d="M0,3.6 L2.6,0 L2.6,19" vector-effect="non-scaling-stroke"/><path transform="matrix(0.6500 0 0 0.9237 628.86 852.38)" d="M6.5,2.2 C5.9,0.8 4.9,0 3.7,0 C1.5,0 0.3,3.6 0.3,10 C0.3,16 1.5,19 3.7,19 C5.8,19 7,16.6 7,13.3 C7,10 5.8,7.8 3.7,7.8 C2,7.8 0.8,9.2 0.3,11.6" vector-effect="non-scaling-stroke"/><path transform="matrix(0.6500 0 0 0.9237 638.51 852.38)" d="M1.7,17.6 L0.3,22.3" vector-effect="non-scaling-stroke"/><path transform="matrix(0.6500 0 0 0.9237 645.63 852.38)" d="M0.3,4.3 C0.5,1.5 1.8,0 3.6,0 C5.6,0 6.8,1.6 6.8,4.3 C6.8,7.6 4.4,10.6 0.2,19 L7,19" vector-effect="non-scaling-stroke"/><path transform="matrix(0.6500 0 0 0.9237 655.28 852.38)" d="M6.5,2.2 C5.9,0.8 4.9,0 3.7,0 C1.5,0 0.3,3.6 0.3,10 C0.3,16 1.5,19 3.7,19 C5.8,19 7,16.6 7,13.3 C7,10 5.8,7.8 3.7,7.8 C2,7.8 0.8,9.2 0.3,11.6" vector-effect="non-scaling-stroke"/></g>
<g fill="none" stroke="#101010" stroke-width="1.6" stroke-linecap="round" stroke-linejoin="round"><path transform="matrix(0.7429 0 0 0.6316 572.80 922.00)" d="M0,19 L0,0 L4.2,0 C6.2,0 7,1.6 7,4.8 C7,8 6.2,9.6 4.2,9.6 L0,9.6" vector-effect="non-scaling-stroke"/><path transform="matrix(0.7429 0 0 0.6316 582.65 922.00)" d="M7,3.4 C6.4,1.1 5.2,0 3.6,0 C1.3,0 0,3.6 0,9.5 C0,15.4 1.3,19 3.6,19 C5.2,19 6.4,17.9 7,15.6" vector-effect="non-scaling-stroke"/><path transform="matrix(0.7429 0 0 0.6316 603.10 922.00)" d="M0,19 L0,0 L4,0 C5.9,0 6.7,1.5 6.7,4.5 C6.7,7.5 5.8,9 4,9 L0,9 M4,9 C6.1,9 7.2,10.8 7.2,14 C7.2,17.3 6.1,19 4,19 L0,19" vector-effect="non-scaling-stroke"/><path transform="matrix(0.7429 0 0 0.6316 613.10 922.00)" d="M3.3,5.6 C1.1,5.6 0,8.3 0,12.3 C0,16.3 1.1,19 3.3,19 C5.5,19 6.6,16.3 6.6,12.3 C6.6,8.3 5.5,5.6 3.3,5.6 Z" vector-effect="non-scaling-stroke"/><path transform="matrix(0.7429 0 0 0.6316 622.66 922.00)" d="M0.6,7.3 C1.2,6.1 2.1,5.6 3.3,5.6 C5.3,5.6 6.4,6.8 6.4,9.5 L6.4,19 M6.4,11.5 C5.5,10.8 4.4,10.6 3.2,10.6 C1.2,10.6 0,12.2 0,14.8 C0,17.5 1.2,19 3,19 C4.6,19 5.8,17.9 6.4,16" vector-effect="non-scaling-stroke"/><path transform="matrix(0.7429 0 0 0.6316 632.06 922.00)" d="M0,5.6 L0,19 M0,10 C0.8,7 2.2,5.6 4,5.6 L5,5.6" vector-effect="non-scaling-stroke"/><path transform="matrix(0.7429 0 0 0.6316 640.43 922.00)" d="M6.6,0 L6.6,19 M6.6,9 C6,6.8 4.8,5.6 3.3,5.6 C1.1,5.6 0,8.3 0,12.3 C0,16.3 1.1,19 3.3,19 C4.8,19 6,17.8 6.6,15.6" vector-effect="non-scaling-stroke"/><path transform="matrix(0.7429 0 0 0.6316 660.58 922.00)" d="M0,0 L0,19 L6.5,19" vector-effect="non-scaling-stroke"/><path transform="matrix(0.7429 0 0 0.6316 670.06 922.00)" d="M0.6,7.3 C1.2,6.1 2.1,5.6 3.3,5.6 C5.3,5.6 6.4,6.8 6.4,9.5 L6.4,19 M6.4,11.5 C5.5,10.8 4.4,10.6 3.2,10.6 C1.2,10.6 0,12.2 0,14.8 C0,17.5 1.2,19 3,19 C4.6,19 5.8,17.9 6.4,16" vector-effect="non-scaling-stroke"/><path transform="matrix(0.7429 0 0 0.6316 679.47 922.00)" d="M0,5.6 L3.4,18.2 M6.8,5.6 L3.2,19.5 C2.6,22 1.8,23.5 0.6,23.5" vector-effect="non-scaling-stroke"/><path transform="matrix(0.7429 0 0 0.6316 689.17 922.00)" d="M3.3,5.6 C1.1,5.6 0,8.3 0,12.3 C0,16.3 1.1,19 3.3,19 C5.5,19 6.6,16.3 6.6,12.3 C6.6,8.3 5.5,5.6 3.3,5.6 Z" vector-effect="non-scaling-stroke"/><path transform="matrix(0.7429 0 0 0.6316 698.73 922.00)" d="M0,5.6 L0,14.5 C0,17.6 1.2,19 3.2,19 C4.8,19 6,17.8 6.6,15.6 M6.6,5.6 L6.6,19" vector-effect="non-scaling-stroke"/><path transform="matrix(0.7429 0 0 0.6316 708.29 922.00)" d="M2,0.8 L2,16.5 C2,18.3 2.8,19 4,19 L5,19 M0,5.6 L5,5.6" vector-effect="non-scaling-stroke"/></g>
<g fill="none" stroke="#101010" stroke-width="1.6" stroke-linecap="round" stroke-linejoin="round"><path transform="matrix(0.7429 0 0 0.5895 544.80 957.20)" d="M7,3.4 C6.4,1.1 5.2,0 3.6,0 C1.3,0 0,3.6 0,9.5 C0,15.4 1.3,19 3.6,19 C5.2,19 6.4,17.9 7,15.6" vector-effect="non-scaling-stroke"/><path transform="matrix(0.7429 0 0 0.5895 554.95 957.20)" d="M3.3,5.6 C1.1,5.6 0,8.3 0,12.3 C0,16.3 1.1,19 3.3,19 C5.5,19 6.6,16.3 6.6,12.3 C6.6,8.3 5.5,5.6 3.3,5.6 Z" vector-effect="non-scaling-stroke"/><path transform="matrix(0.7429 0 0 0.5895 564.80 957.20)" d="M0,5.6 L0,19 M0,9 C0.6,6.8 1.6,5.6 3,5.6 C4.5,5.6 5.3,6.8 5.3,9.5 L5.3,19 M5.3,9 C5.9,6.8 6.9,5.6 8.3,5.6 C9.8,5.6 10.6,6.8 10.6,9.5 L10.6,19" vector-effect="non-scaling-stroke"/><path transform="matrix(0.7429 0 0 0.5895 577.62 957.20)" d="M0,5.6 L0,24 M0,9 C0.6,6.8 1.8,5.6 3.3,5.6 C5.5,5.6 6.6,8.3 6.6,12.3 C6.6,16.3 5.5,19 3.3,19 C1.8,19 0.6,17.8 0,15.6" vector-effect="non-scaling-stroke"/><path transform="matrix(0.7429 0 0 0.5895 587.47 957.20)" d="M3.3,5.6 C1.1,5.6 0,8.3 0,12.3 C0,16.3 1.1,19 3.3,19 C5.5,19 6.6,16.3 6.6,12.3 C6.6,8.3 5.5,5.6 3.3,5.6 Z" vector-effect="non-scaling-stroke"/><path transform="matrix(0.7429 0 0 0.5895 597.32 957.20)" d="M0,5.6 L0,19 M0,9 C0.6,6.8 1.8,5.6 3.3,5.6 C5.4,5.6 6.4,6.9 6.4,9.8 L6.4,19" vector-effect="non-scaling-stroke"/><path transform="matrix(0.7429 0 0 0.5895 607.02 957.20)" d="M0.1,12.3 L6.6,12.3 C6.6,8.3 5.4,5.6 3.3,5.6 C1.1,5.6 0,8.3 0,12.3 C0,16.3 1.1,19 3.3,19 C4.8,19 5.9,18.2 6.5,16.5" vector-effect="non-scaling-stroke"/><path transform="matrix(0.7429 0 0 0.5895 616.87 957.20)" d="M0,5.6 L0,19 M0,9 C0.6,6.8 1.8,5.6 3.3,5.6 C5.4,5.6 6.4,6.9 6.4,9.8 L6.4,19" vector-effect="non-scaling-stroke"/><path transform="matrix(0.7429 0 0 0.5895 626.58 957.20)" d="M2,0.8 L2,16.5 C2,18.3 2.8,19 4,19 L5,19 M0,5.6 L5,5.6" vector-effect="non-scaling-stroke"/><path transform="matrix(0.7429 0 0 0.5895 646.13 957.20)" d="M6.8,3.2 C6.2,1.1 5.1,0 3.5,0 C1.5,0 0.3,1.6 0.3,4.5 C0.3,7.8 2,8.8 3.7,9.6 C5.6,10.5 7.1,11.5 7.1,14.6 C7.1,17.5 5.7,19 3.6,19 C1.8,19 0.6,17.9 0,15.6" vector-effect="non-scaling-stroke"/><path transform="matrix(0.7429 0 0 0.5895 656.35 957.20)" d="M0,0.6 L0,1.6 M0,5.6 L0,19" vector-effect="non-scaling-stroke"/><path transform="matrix(0.7429 0 0 0.5895 661.30 957.20)" d="M6.6,0 L6.6,19 M6.6,9 C6,6.8 4.8,5.6 3.3,5.6 C1.1,5.6 0,8.3 0,12.3 C0,16.3 1.1,19 3.3,19 C4.8,19 6,17.8 6.6,15.6" vector-effect="non-scaling-stroke"/><path transform="matrix(0.7429 0 0 0.5895 671.15 957.20)" d="M0.1,12.3 L6.6,12.3 C6.6,8.3 5.4,5.6 3.3,5.6 C1.1,5.6 0,8.3 0,12.3 C0,16.3 1.1,19 3.3,19 C4.8,19 5.9,18.2 6.5,16.5" vector-effect="non-scaling-stroke"/><path transform="matrix(0.7429 0 0 0.5895 691.89 957.20)" d="M6.8,3.2 C6.2,1.1 5.1,0 3.5,0 C1.5,0 0.3,1.6 0.3,4.5 C0.3,7.8 2,8.8 3.7,9.6 C5.6,10.5 7.1,11.5 7.1,14.6 C7.1,17.5 5.7,19 3.6,19 C1.8,19 0.6,17.9 0,15.6" vector-effect="non-scaling-stroke"/><path transform="matrix(0.7429 0 0 0.5895 702.11 957.20)" d="M0,0 L0,19 M0,9 C0.6,6.8 1.8,5.6 3.3,5.6 C5.4,5.6 6.4,6.9 6.4,9.8 L6.4,19" vector-effect="non-scaling-stroke"/><path transform="matrix(0.7429 0 0 0.5895 711.81 957.20)" d="M3.3,5.6 C1.1,5.6 0,8.3 0,12.3 C0,16.3 1.1,19 3.3,19 C5.5,19 6.6,16.3 6.6,12.3 C6.6,8.3 5.5,5.6 3.3,5.6 Z" vector-effect="non-scaling-stroke"/><path transform="matrix(0.7429 0 0 0.5895 721.66 957.20)" d="M0,5.6 L2.3,19 L4.6,8 L6.9,19 L9.2,5.6" vector-effect="non-scaling-stroke"/><path transform="matrix(0.7429 0 0 0.5895 733.45 957.20)" d="M0,5.6 L0,19 M0,9 C0.6,6.8 1.8,5.6 3.3,5.6 C5.4,5.6 6.4,6.9 6.4,9.8 L6.4,19" vector-effect="non-scaling-stroke"/></g>
<g fill="none" stroke="#101010" stroke-width="1.75" stroke-linecap="round" stroke-linejoin="round"><path transform="matrix(0 -0.8214 0.9079 0 524.12 280.88)" d="M0,3.6 L2.6,0 L2.6,19" vector-effect="non-scaling-stroke"/><path transform="matrix(0 -0.8214 0.9079 0 524.12 274.54)" d="M0.3,3.4 C0.9,1.1 2.1,0 3.6,0 C5.6,0 6.7,1.8 6.7,4.6 C6.7,7.4 5.3,9.1 2.9,9.1 C5.6,9.1 7,11 7,14 C7,17.2 5.6,19 3.5,19 C1.8,19 0.7,17.9 0.1,15.7" vector-effect="non-scaling-stroke"/><path transform="matrix(0 -0.8214 0.9079 0 524.12 264.76)" d="M1.7,17.6 L0.3,22.3" vector-effect="non-scaling-stroke"/><path transform="matrix(0 -0.8214 0.9079 0 524.12 258.01)" d="M0,3.6 L2.6,0 L2.6,19" vector-effect="non-scaling-stroke"/></g>
<g fill="none" stroke="#101010" stroke-width="1.75" stroke-linecap="round" stroke-linejoin="round"><path transform="matrix(0 -0.7929 0.9237 0 833.08 311.28)" d="M0.3,4.3 C0.5,1.5 1.8,0 3.6,0 C5.6,0 6.8,1.6 6.8,4.3 C6.8,7.6 4.4,10.6 0.2,19 L7,19" vector-effect="non-scaling-stroke"/><path transform="matrix(0 -0.7929 0.9237 0 833.08 301.57)" d="M1.7,17.6 L0.3,22.3" vector-effect="non-scaling-stroke"/><path transform="matrix(0 -0.7929 0.9237 0 833.08 295.03)" d="M6.5,2.2 C5.9,0.8 4.9,0 3.7,0 C1.5,0 0.3,3.6 0.3,10 C0.3,16 1.5,19 3.7,19 C5.8,19 7,16.6 7,13.3 C7,10 5.8,7.8 3.7,7.8 C2,7.8 0.8,9.2 0.3,11.6" vector-effect="non-scaling-stroke"/><path transform="matrix(0 -0.7929 0.9237 0 833.08 285.24)" d="M0.2,0 L7,0 C5,5 3.3,11 2.5,19" vector-effect="non-scaling-stroke"/><path transform="matrix(0 -0.7929 0.9237 0 833.08 275.28)" d="M2.6,6.3 L2.6,13.8 M0,10.1 L5.2,10.1 M0,17.8 L5.2,17.8" vector-effect="non-scaling-stroke"/><path transform="matrix(0 -0.7929 0.9237 0 833.08 266.92)" d="M3.6,0 C1.2,0 0.2,4 0.2,9.5 C0.2,15 1.2,19 3.6,19 C6,19 7,15 7,9.5 C7,4 6,0 3.6,0 Z" vector-effect="non-scaling-stroke"/><path transform="matrix(0 -0.7929 0.9237 0 833.08 257.44)" d="M0.6,18.3 L0.6,19" vector-effect="non-scaling-stroke"/><path transform="matrix(0 -0.7929 0.9237 0 833.08 252.73)" d="M0.3,4.3 C0.5,1.5 1.8,0 3.6,0 C5.6,0 6.8,1.6 6.8,4.3 C6.8,7.6 4.4,10.6 0.2,19 L7,19" vector-effect="non-scaling-stroke"/></g>
<g fill="none" stroke="#101010" stroke-width="1.75" stroke-linecap="round" stroke-linejoin="round"><path transform="matrix(0 -0.7929 0.9921 0 460.88 763.90)" d="M0.3,3.4 C0.9,1.1 2.1,0 3.6,0 C5.6,0 6.7,1.8 6.7,4.6 C6.7,7.4 5.3,9.1 2.9,9.1 C5.6,9.1 7,11 7,14 C7,17.2 5.6,19 3.5,19 C1.8,19 0.7,17.9 0.1,15.7" vector-effect="non-scaling-stroke"/><path transform="matrix(0 -0.7929 0.9921 0 460.88 754.38)" d="M1.7,17.6 L0.3,22.3" vector-effect="non-scaling-stroke"/><path transform="matrix(0 -0.7929 0.9921 0 460.88 747.95)" d="M6.6,0 L1.2,0 L0.7,8.3 C1.6,7.3 2.6,6.9 3.7,6.9 C5.8,6.9 7,9.1 7,12.9 C7,16.8 5.6,19 3.5,19 C1.9,19 0.8,18 0.2,16.2" vector-effect="non-scaling-stroke"/><path transform="matrix(0 -0.7929 0.9921 0 460.88 738.42)" d="M6.5,2.2 C5.9,0.8 4.9,0 3.7,0 C1.5,0 0.3,3.6 0.3,10 C0.3,16 1.5,19 3.7,19 C5.8,19 7,16.6 7,13.3 C7,10 5.8,7.8 3.7,7.8 C2,7.8 0.8,9.2 0.3,11.6" vector-effect="non-scaling-stroke"/></g>
<g fill="none" stroke="#101010" stroke-width="1.75" stroke-linecap="round" stroke-linejoin="round"><path transform="matrix(0 -0.8929 0.9500 0 806.98 759.90)" d="M2.3,0 L0.2,14.5 L7,14.5 M5.2,10.6 L5.2,19" vector-effect="non-scaling-stroke"/><path transform="matrix(0 -0.8929 0.9500 0 806.98 749.88)" d="M1.7,17.6 L0.3,22.3" vector-effect="non-scaling-stroke"/><path transform="matrix(0 -0.8929 0.9500 0 806.98 743.24)" d="M0.3,3.4 C0.9,1.1 2.1,0 3.6,0 C5.6,0 6.7,1.8 6.7,4.6 C6.7,7.4 5.3,9.1 2.9,9.1 C5.6,9.1 7,11 7,14 C7,17.2 5.6,19 3.5,19 C1.8,19 0.7,17.9 0.1,15.7" vector-effect="non-scaling-stroke"/><path transform="matrix(0 -0.8929 0.9500 0 806.98 733.12)" d="M0.3,4.3 C0.5,1.5 1.8,0 3.6,0 C5.6,0 6.8,1.6 6.8,4.3 C6.8,7.6 4.4,10.6 0.2,19 L7,19" vector-effect="non-scaling-stroke"/></g>
<g fill="none" stroke="#101010" stroke-width="1.75" stroke-linecap="round" stroke-linejoin="round"><path transform="matrix(0 -0.8500 0.8921 0 761.38 814.83)" d="M0,3.6 L2.6,0 L2.6,19" vector-effect="non-scaling-stroke"/><path transform="matrix(0 -0.8500 0.8921 0 761.38 809.08)" d="M1.7,17.6 L0.3,22.3" vector-effect="non-scaling-stroke"/><path transform="matrix(0 -0.8500 0.8921 0 761.38 802.90)" d="M0.2,0 L7,0 C5,5 3.3,11 2.5,19" vector-effect="non-scaling-stroke"/><path transform="matrix(0 -0.8500 0.8921 0 761.38 793.33)" d="M3.6,9 C1.7,9 0.6,7.4 0.6,4.5 C0.6,1.7 1.7,0 3.6,0 C5.5,0 6.6,1.7 6.6,4.5 C6.6,7.4 5.5,9 3.6,9 C1.4,9 0.2,10.9 0.2,14 C0.2,17.1 1.4,19 3.6,19 C5.8,19 7,17.1 7,14 C7,10.9 5.8,9 3.6,9 Z" vector-effect="non-scaling-stroke"/></g>
</g>
</svg>
</body></html>
